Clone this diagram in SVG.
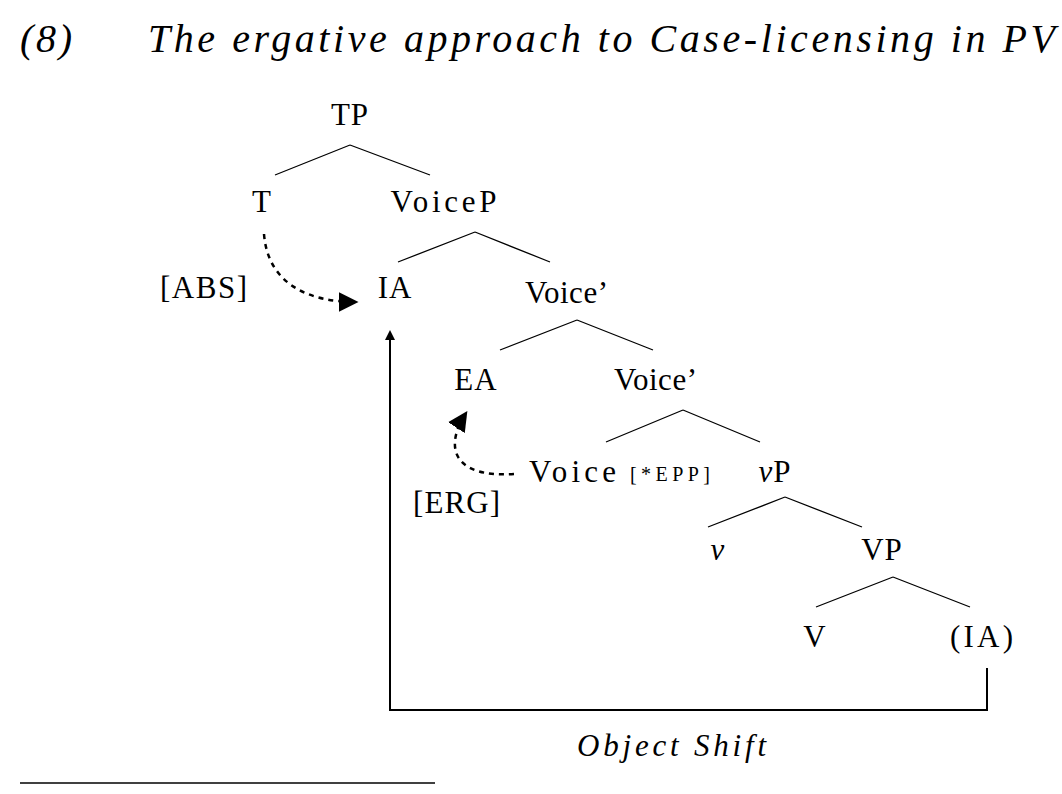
<svg xmlns="http://www.w3.org/2000/svg" width="1062" height="794" viewBox="0 0 1062 794">
<style>
text{font-family:"Liberation Serif","Times New Roman",serif;fill:#000}
.n{font-size:31px;text-anchor:middle;letter-spacing:1px}
.s{font-size:20px}
.t{font-size:40px;font-style:italic}
.e{stroke:#000;stroke-width:1.3;fill:none}
.d{stroke:#000;stroke-width:2.5;fill:none;stroke-dasharray:5,5}
</style>
<defs>
<marker id="ah" markerWidth="10" markerHeight="10" refX="8" refY="5" orient="auto" markerUnits="userSpaceOnUse" viewBox="0 0 10 10">
<path d="M0,0 L10,5 L0,10 z" fill="#000"/>
</marker>
<marker id="ab" markerWidth="20" markerHeight="20" refX="14" refY="8" orient="auto" markerUnits="userSpaceOnUse" viewBox="0 0 16 16">
<path d="M0,0 L16,8 L0,16 z" fill="#000"/>
</marker>
</defs>
<text class="t" x="20" y="52" textLength="52">(8)</text>
<text class="t" x="148" y="52" textLength="907" lengthAdjust="spacing">The ergative approach to Case-licensing in PV</text>
<g id="nodes">
<g id="TP"><text class="n" x="350" y="125">TP</text></g>
<g id="T"><text class="n" x="262" y="212">T</text></g>
<g id="VoiceP"><text class="n" x="444" y="212" textLength="107">VoiceP</text></g>
<g id="ABS"><text class="n" x="204" y="298" textLength="88">[ABS]</text></g>
<g id="IA"><text class="n" x="395" y="298">IA</text></g>
<g id="Voice1"><text class="n" x="567" y="303" textLength="84">Voice’</text></g>
<g id="EA"><text class="n" x="476" y="390">EA</text></g>
<g id="Voice2"><text class="n" x="656" y="390" textLength="84">Voice’</text></g>
<g id="Voice"><text class="n" x="573" y="482" textLength="88">Voice</text><text class="s" x="630" y="481" textLength="80">[*EPP]</text></g>
<g id="vP"><text class="n" x="775" y="482"><tspan font-style="italic">v</tspan>P</text></g>
<g id="ERG"><text class="n" x="457" y="513" textLength="88">[ERG]</text></g>
<g id="v"><text class="n" x="718" y="560" font-style="italic">v</text></g>
<g id="VP"><text class="n" x="882" y="560">VP</text></g>
<g id="V"><text class="n" x="815" y="647">V</text></g>
<g id="IA2"><text class="n" x="982" y="647" textLength="64">(IA)</text></g>
<g id="OS"><text class="n" x="672" y="756" font-style="italic" textLength="190">Object Shift</text></g>
</g>
<g id="connectors">
<path class="e" d="M350,145 L275,175 M350,145 L430,175"/>
<path class="e" d="M475,232 L398,262 M475,232 L550,262"/>
<path class="e" d="M577,320 L500,350 M577,320 L653,350"/>
<path class="e" d="M683,410 L606,442 M683,410 L760,442"/>
<path class="e" d="M785,497 L708,527 M785,497 L862,527"/>
<path class="e" d="M893,577 L816,607 M893,577 L970,607"/>
<path stroke="#000" stroke-width="2" fill="none" d="M987,668 L987,710 L390,710 L390,332" marker-end="url(#ah)"/>
<path class="d" d="M264,234 C268,285 310,302 356,302" marker-end="url(#ab)"/>
<path class="d" d="M514,474 C450,478 445,445 466,413" marker-end="url(#ab)"/>
<line x1="20" y1="783" x2="435" y2="783" stroke="#000" stroke-width="1.3"/>
</g>
</svg>
